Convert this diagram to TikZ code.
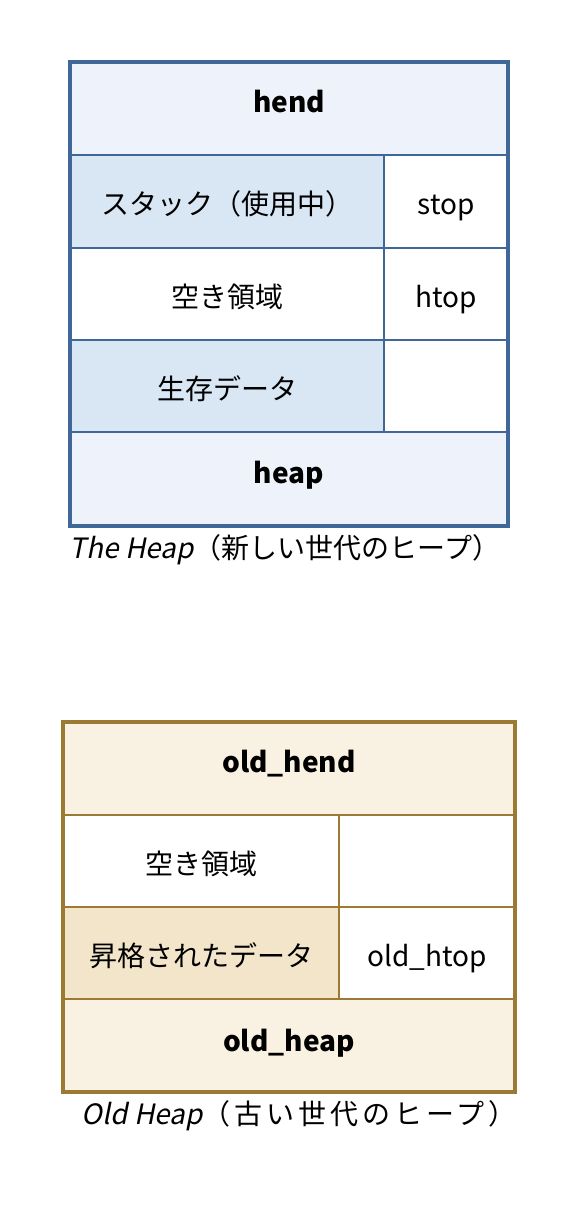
\documentclass[tikz,border=0pt]{standalone}
\usepackage{fontspec}
\setmainfont{Noto Sans CJK JP}
\newfontfamily\slantfont[FakeSlant=0.2]{Noto Sans CJK JP}
\newfontfamily\widecjk[LetterSpace=14]{Noto Sans CJK JP}
\definecolor{blueline}{HTML}{3F6797}
\definecolor{bluelight}{HTML}{EEF3FB}
\definecolor{bluecell}{HTML}{D9E6F3}
\definecolor{goldline}{HTML}{9D7A34}
\definecolor{goldlight}{HTML}{F9F2E3}
\definecolor{goldcell}{HTML}{F2E5CA}
\tikzset{
  lbl/.style={anchor=base, inner sep=0pt, font=\fontsize{28}{30}\selectfont},
  hdr/.style={lbl, font=\fontsize{28}{30}\selectfont\bfseries},
  captext/.style={anchor=base, inner sep=0pt, font=\fontsize{28}{30}\selectfont},
  cellline/.style={line width=2pt},
  heapframe/.style={line width=4pt},
}
\begin{document}
\begin{tikzpicture}[x=1pt,y=-1pt]
\useasboundingbox (0,0) rectangle (578,1212);
% ---------- The Heap ----------
\fill[bluelight] (70,62) rectangle (508,155);
\fill[bluecell] (70,155) rectangle (384,248);
\fill[white] (384,155) rectangle (508,248);
\fill[white] (70,248) rectangle (508,340);
\fill[bluecell] (70,340) rectangle (384,432);
\fill[white] (384,340) rectangle (508,432);
\fill[bluelight] (70,432) rectangle (508,526);
\begin{scope}[draw=blueline]
\draw[cellline] (70,155) -- (508,155);
\draw[cellline] (70,248) -- (508,248);
\draw[cellline] (70,340) -- (508,340);
\draw[cellline] (70,432) -- (508,432);
\draw[cellline] (384,155) -- (384,432);
\draw[heapframe] (70,62) rectangle (508,526);
\end{scope}
\node[hdr] (hend) at (289,113) {hend};
\node[lbl] (stack) at (227,214.5) {スタック（使用中）};
\node[lbl] (stop) at (446,214.5) {stop};
\node[lbl] (free1) at (227,307) {空き領域};
\node[lbl] (htop) at (446,307) {htop};
\node[lbl] (live) at (227,399) {生存データ};
\node[hdr] (heap) at (289,483) {heap};
\node[captext] (cap1) at (285,558) {{\slantfont The Heap}（新しい世代のヒープ）};
% ---------- Old Heap ----------
\fill[goldlight] (63,722) rectangle (515,815);
\fill[white] (63,815) rectangle (515,907);
\fill[goldcell] (63,907) rectangle (339,999);
\fill[white] (339,907) rectangle (515,999);
\fill[goldlight] (63,999) rectangle (515,1092);
\begin{scope}[draw=goldline]
\draw[cellline] (63,815) -- (515,815);
\draw[cellline] (63,907) -- (515,907);
\draw[cellline] (63,999) -- (515,999);
\draw[cellline] (339,815) -- (339,999);
\draw[heapframe] (63,722) rectangle (515,1092);
\end{scope}
\node[hdr] (ohend) at (289,772) {old\_hend};
\node[lbl] (free2) at (201,874) {空き領域};
\node[lbl] (promo) at (201,966) {昇格されたデータ};
\node[lbl] (ohtop) at (427,966) {old\_htop};
\node[hdr] (oheap) at (289,1051) {old\_heap};
\node[captext] (cap2) at (299,1124) {{\slantfont Old Heap}{\widecjk （古い世代のヒープ）}};
\end{tikzpicture}
\end{document}
